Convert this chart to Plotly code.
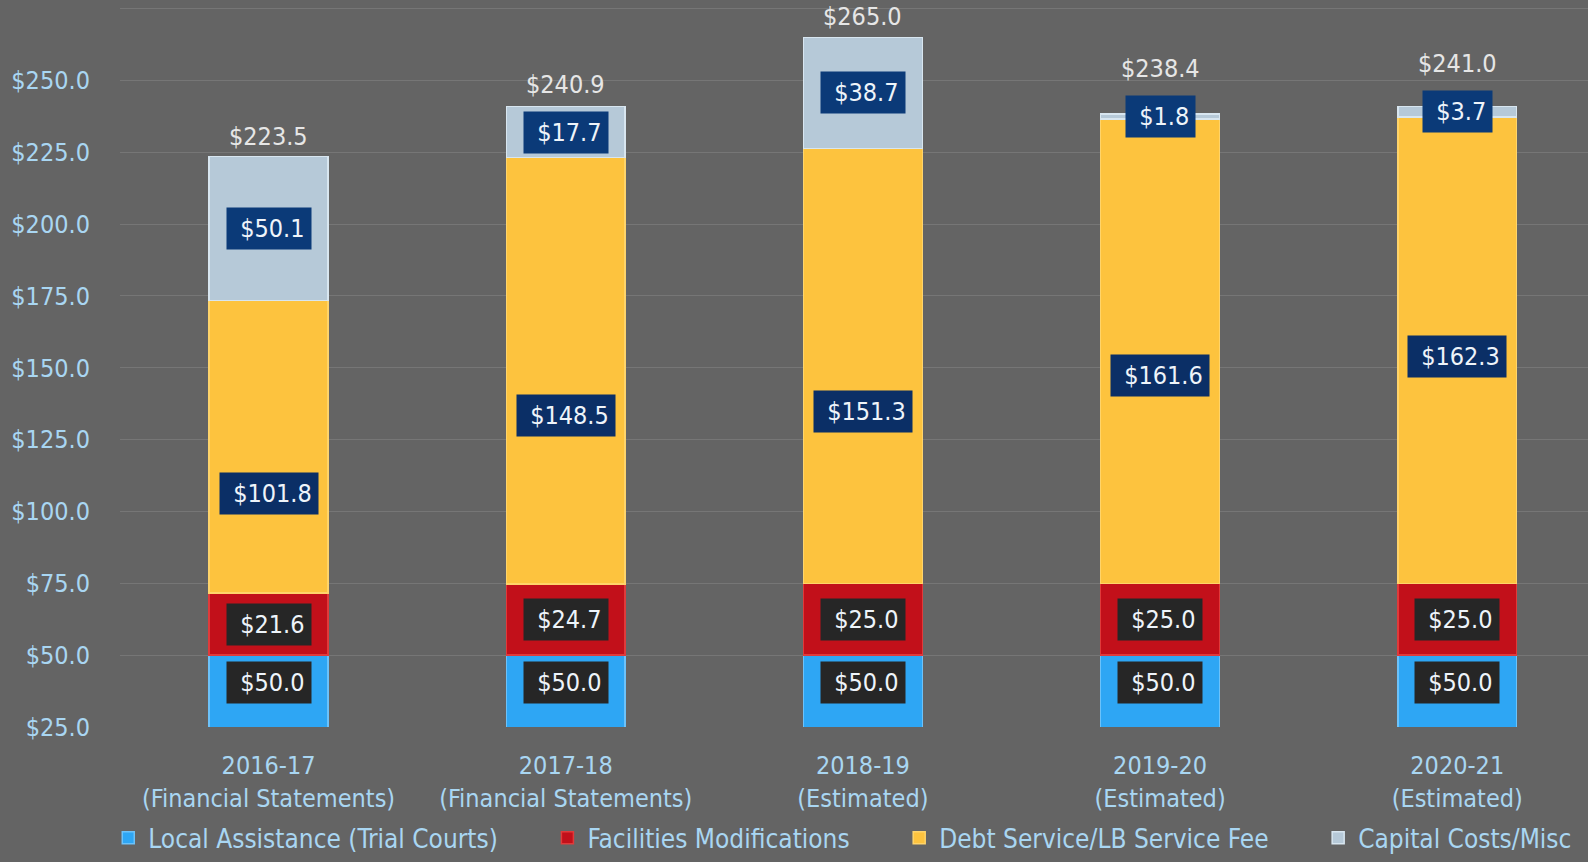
import plotly.graph_objects as go

years = ["2016-17<br>(Financial Statements)", "2017-18<br>(Financial Statements)",
         "2018-19<br>(Estimated)", "2019-20<br>(Estimated)", "2020-21<br>(Estimated)"]

local_assistance = [50.0, 50.0, 50.0, 50.0, 50.0]
facilities_mods = [21.6, 24.7, 25.0, 25.0, 25.0]
debt_service = [101.8, 148.5, 151.3, 161.6, 162.3]
capital_costs = [50.1, 17.7, 38.7, 1.8, 3.7]
totals = [223.5, 240.9, 265.0, 238.4, 241.0]

# where the debt service labels sit (moved by hand in the original)
debt_label_at = [106.4, 133.3, 134.7, 147.4, 154.0]

FONT = "DejaVu Sans Condensed, Liberation Sans Narrow, DejaVu Sans, sans-serif"
AXIS_BLUE = "#a9d6f2"
BOTTOM = 25
NB = "\u00a0"
MARGIN_B = 135
PLOT_H = 862 - MARGIN_B

series = [
    ("Local Assistance (Trial Courts)", local_assistance, "#2ea6f4", "#6cc2fa"),
    ("Facilities Modifications", facilities_mods, "#c2101a", "#e03a3a"),
    ("Debt Service/LB Service Fee", debt_service, "#fdc33e", "#ffd46a"),
    ("Capital Costs/Misc", capital_costs, "#b6c9d8", "#d8e6f0"),
]

fig = go.Figure()
for k, (name, vals, col, edge) in enumerate(series):
    # pad legend names so the entries spread out like the original
    label = name + NB * 6 if k < len(series) - 1 else name
    fig.add_trace(go.Bar(
        x=years, y=vals, name=label,
        marker=dict(color=col, line=dict(color=edge, width=1.5)),
        hovertemplate=name + ": $%{y:.1f}<extra></extra>",
    ))

annotations = []
for i, yr in enumerate(years):
    base_f = local_assistance[i]
    base_d = base_f + facilities_mods[i]
    base_c = base_d + debt_service[i]
    cap_mid = base_c + capital_costs[i] / 2
    labels = [
        ((BOTTOM + local_assistance[i]) / 2 + 3, local_assistance[i], "#262626"),
        (base_f + facilities_mods[i] / 2, facilities_mods[i], "#262626"),
        (debt_label_at[i], debt_service[i], "#0b2f66"),
        (cap_mid, capital_costs[i], "#0b3a78"),
    ]
    for y, v, bg in labels:
        annotations.append(dict(
            x=yr, y=y, text=f"{NB}${v:.1f}", showarrow=False,
            font=dict(family=FONT, size=25, color="#eef4fa"),
            bgcolor=bg, borderpad=6,
        ))
    # keep the total clear of the capital label box on thin segments
    annotations.append(dict(
        x=yr, y=max(totals[i], cap_mid + 9.5), text=f"${totals[i]:.1f}",
        showarrow=False, yanchor="bottom", yshift=4,
        font=dict(family=FONT, size=25, color="#e6e6e6"),
    ))

fig.update_layout(
    barmode="stack",
    bargap=0.6,
    width=1588, height=862,
    margin=dict(l=120, r=0, t=0, b=MARGIN_B),
    paper_bgcolor="#646464",
    plot_bgcolor="#646464",
    font=dict(family=FONT, size=25, color=AXIS_BLUE),
    annotations=annotations,
    showlegend=True,
    legend=dict(
        orientation="h", x=-0.008, xanchor="left",
        y=-MARGIN_B / PLOT_H + 0.001, yanchor="bottom",
        font=dict(family=FONT, size=26, color=AXIS_BLUE),
        bgcolor="rgba(0,0,0,0)", itemwidth=30, traceorder="normal",
    ),
)
fig.update_xaxes(
    range=[-0.5, 4.44], showgrid=False, zeroline=False, showline=False,
    ticks="outside", ticklen=16, tickcolor="rgba(0,0,0,0)",
    tickfont=dict(family=FONT, size=25, color=AXIS_BLUE),
)
fig.update_yaxes(
    range=[BOTTOM, 278], dtick=25, tick0=0, tickprefix="$", tickformat=".1f",
    showgrid=True, gridcolor="rgba(255,255,255,0.12)", gridwidth=1,
    zeroline=False, showline=False,
    ticks="outside", ticklen=24, tickcolor="rgba(0,0,0,0)",
    tickfont=dict(family=FONT, size=25, color=AXIS_BLUE),
)

fig.write_html("out.html", config={"displayModeBar": False},
               post_script="document.body.style.margin='0';")
